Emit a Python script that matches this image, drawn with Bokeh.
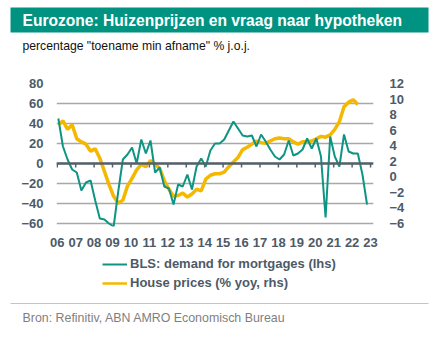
from bokeh.plotting import figure
from bokeh.layouts import column
from bokeh.models import (Range1d, LinearAxis, FixedTicker, Label, Legend, LegendItem,
                          ColumnDataSource, Span)
from bokeh.embed import file_html
from bokeh.resources import INLINE

TITLE = "Eurozone: Huizenprijzen en vraag naar hypotheken"
SUBTITLE = 'percentage "toename min afname" % j.o.j.'
SOURCE_NOTE = "Bron:  Refinitiv, ABN AMRO Economisch Bureau"
SERIES_BLS = "BLS: demand for mortgages (lhs)"
SERIES_HP = "House prices (% yoy, rhs)"

YEARS = list(range(2006, 2024))
YEAR_LABELS = ["06", "07", "08", "09", "10", "11", "12", "13", "14", "15",
               "16", "17", "18", "19", "20", "21", "22", "23"]
LEFT_TICKS = [-60, -40, -20, 0, 20, 40, 60, 80]
RIGHT_TICKS = [-6, -4, -2, 0, 2, 4, 6, 8, 10, 12]

# quarterly, starting 2006Q1
BLS = [45, 17, 4, -6, -9, -27, -19, -17, -37, -55, -56, -60,
       -63, -28, 4, 9, 16, 0, 24, 10, 23, -9, -4, -23,
       -25, -41, -21, -23, -11, -26, -3, 5, -3, 13, 20, 20,
       24, 33, 42, 35, 28, 27, 28, 17, 29, 22, 14, 7,
       4, 9, 23, 8, 10, 14, 25, 15, 25, 7, -54, 27,
       7, -3, 29, 12, 10, 10, -11, -41]
HOUSE = [6.7, 7.2, 6.1, 6.7, 4.9, 4.5, 4.2, 3.3, 3.6, 2.4, 0.7, -1.0,
         -2.5, -3.4, -3.0, -1.2, -0.2, 0.9, 1.6, 1.3, 2.1, 1.6, 1.1, -0.5,
         -1.6, -2.5, -2.4, -2.1, -2.6, -2.2, -1.6, -1.8, -0.3, 0.2, 0.4, 0.4,
         0.6, 1.3, 1.9, 2.5, 3.5, 3.8, 4.2, 4.6, 4.4, 4.3, 4.6, 4.9,
         5.0, 4.9, 4.9, 4.5, 4.2, 4.5, 4.5, 4.6, 4.9, 5.2, 5.1, 5.4,
         6.1, 7.1, 9.0, 9.6, 9.9, 9.3]

START_YEAR = 2006
X_OFF = 0.06


def qx(n):
    return [START_YEAR + i / 4 + X_OFF for i in range(n)]


GREEN = "#0e9482"
YELLOW = "#f5b800"
BAND = "#009382"
AXIS_TXT = "#4d5a68"
FONT = "Liberation Sans"
W = 437


def blank(h):
    f = figure(width=W, height=h, output_backend="svg", toolbar_location=None,
               x_range=Range1d(0, W), y_range=Range1d(h, 0),
               x_axis_location=None, y_axis_location=None,
               min_border=0, outline_line_color=None, frame_align=False)
    f.xgrid.visible = False
    f.ygrid.visible = False
    return f


# ---- header ----
top = blank(76)
top.quad(left=[10], right=[428], top=[7], bottom=[32], fill_color=BAND, line_color=None)
top.add_layout(Label(x=22, y=19.5, text=TITLE, text_color="white", text_font=FONT,
                     text_font_size="15.6px", text_font_style="bold", text_baseline="middle"))
top.add_layout(Label(x=22, y=45, text=SUBTITLE, text_color="#111111", text_font=FONT,
                     text_font_size="12.2px", text_baseline="middle"))

# ---- chart ----
p = figure(width=W, height=174, output_backend="svg", toolbar_location=None,
           x_range=Range1d(2005.96, 2023.16), y_range=Range1d(-63, 80),
           min_border_left=56, min_border_right=64, min_border_top=7,
           min_border_bottom=24, outline_line_color=None, frame_align=False)
p.extra_y_ranges = {"rhs": Range1d(-6 - 3 * 18 / 140, 12)}

xa = p.xaxis[0]
xa.ticker = FixedTicker(ticks=YEARS)
xa.major_label_overrides = {y: l for y, l in zip(YEARS, YEAR_LABELS)}
ya = p.yaxis[0]
ya.ticker = FixedTicker(ticks=LEFT_TICKS)
ra = LinearAxis(y_range_name="rhs", ticker=FixedTicker(ticks=RIGHT_TICKS))
p.add_layout(ra, "right")
for ax in (xa, ya, ra):
    ax.axis_line_color = None
    ax.major_tick_line_color = None
    ax.minor_tick_line_color = None
    ax.major_label_text_font = FONT
    ax.major_label_text_font_size = "13px"
    ax.major_label_text_font_style = "bold"
    ax.major_label_text_color = AXIS_TXT
xa.major_label_standoff = 5
ya.major_label_standoff = 7
ra.major_label_standoff = 10

p.xgrid.visible = False
p.ygrid.ticker = FixedTicker(ticks=LEFT_TICKS)
p.ygrid.grid_line_color = "#a8a8a8"
p.ygrid.grid_line_width = 1.5

p.add_layout(Span(location=0, dimension="width", line_color="#56606b", line_width=2.5))
tick_src = ColumnDataSource(dict(x=YEARS, y0=[0] * len(YEARS), y1=[-4] * len(YEARS)))
p.segment(x0="x", y0="y0", x1="x", y1="y1", source=tick_src, line_color="#56606b", line_width=1.5)

p.line(qx(len(HOUSE)), HOUSE, line_color=YELLOW, line_width=3.5, y_range_name="rhs")
p.line(qx(len(BLS)), BLS, line_color=GREEN, line_width=2)

# ---- legend + footer ----
bot = blank(87)
nan = float("nan")
lg_b = bot.line([nan], [nan], line_color=GREEN, line_width=2)
lg_h = bot.line([nan], [nan], line_color=YELLOW, line_width=2.5)
legend = Legend(items=[LegendItem(label=SERIES_BLS, renderers=[lg_b]),
                       LegendItem(label=SERIES_HP, renderers=[lg_h])],
                location=(102, 47), border_line_color=None, background_fill_alpha=0,
                padding=0, margin=0, spacing=4, glyph_width=25, glyph_height=14,
                label_height=14, label_standoff=3, label_text_font=FONT,
                label_text_font_size="13px", label_text_font_style="bold",
                label_text_color=AXIS_TXT)
bot.add_layout(legend)
bot.segment(x0=[10], y0=[53], x1=[428], y1=[53], line_color="#c4c4c4", line_width=1.2)
bot.add_layout(Label(x=22, y=67, text=SOURCE_NOTE, text_color="#7f7f7f", text_font=FONT,
                     text_font_size="12.4px", text_baseline="middle"))

layout = column(top, p, bot, spacing=0)
open("out.html", "w").write(file_html(layout, INLINE))
